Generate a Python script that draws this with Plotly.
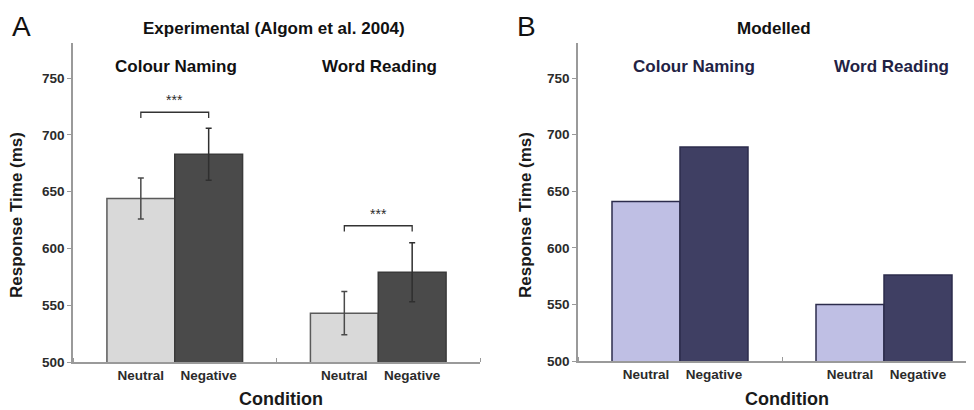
import plotly.graph_objects as go

# ---- data ----
groups = ["Colour Naming", "Word Reading"]
group_pos = [1, 2]
conditions = ["Neutral", "Negative"]

exp_neutral = [644, 543]
exp_negative = [683, 579]
exp_neutral_err = [18, 19]
exp_negative_err = [23, 26]
sig_level = [720, 620]
sig_text = ["***", "***"]

mod_neutral = [641, 550]
mod_negative = [689, 576]

yticks = [500, 550, 600, 650, 700, 750]

# ---- style ----
FONT = "Liberation Sans"
PAGE_W, PAGE_H = 974, 410
OFF = 8  # default page body margin
W, H = PAGE_W - OFF, PAGE_H - OFF
AX = "#9a9a9a"
TXT = "#2b2b2b"
bar_w = 1 / 3

def px(x):
    return (x - OFF) / W

def py(y):
    return 1 - (y - OFF) / H

fig = go.Figure()

# Panel A
fig.add_trace(go.Bar(x=group_pos, y=exp_neutral, name="Neutral", xaxis="x", yaxis="y",
                     marker=dict(color="#d9d9d9", line=dict(color="#5a5a5a", width=1.5)),
                     error_y=dict(type="data", array=exp_neutral_err, color="#4a4a4a",
                                  thickness=1.5, width=3),
                     showlegend=False))
fig.add_trace(go.Bar(x=group_pos, y=exp_negative, name="Negative", xaxis="x", yaxis="y",
                     marker=dict(color="#4a4a4a", line=dict(color="#3a3a3a", width=1.5)),
                     error_y=dict(type="data", array=exp_negative_err, color="#2f2f2f",
                                  thickness=1.5, width=3),
                     showlegend=False))
# Panel B
fig.add_trace(go.Bar(x=group_pos, y=mod_neutral, name="Neutral", xaxis="x2", yaxis="y2",
                     marker=dict(color="#bfbfe4", line=dict(color="#2c2c4c", width=1.5)),
                     showlegend=False))
fig.add_trace(go.Bar(x=group_pos, y=mod_negative, name="Negative", xaxis="x2", yaxis="y2",
                     marker=dict(color="#3f3f63", line=dict(color="#2c2c4c", width=1.5)),
                     showlegend=False))

tickvals = []
ticktext = []
for g in group_pos:
    for i, c in enumerate(conditions):
        tickvals.append(g + (i - 0.5) * bar_w)
        ticktext.append(c)

tickfont = dict(family=FONT, size=13.5, color=TXT, weight="bold")

xa = dict(range=[0.5, 2.5], showline=True, linecolor=AX, linewidth=1.5,
          tickvals=tickvals, ticktext=ticktext, ticks="", tickfont=tickfont,
          showgrid=False, zeroline=False, automargin=False,
          minor=dict(tickvals=[0.5, 1.5, 2.5], ticks="inside", ticklen=4,
                     tickcolor=AX, tickwidth=1.2, showgrid=False))
ya = dict(range=[500, 781], showline=True, linecolor=AX, linewidth=1.5,
          tickvals=yticks, ticks="outside", ticklen=4, tickcolor=AX, tickwidth=1.2,
          tickfont=tickfont, showgrid=False, zeroline=False, automargin=False)

xa1 = dict(xa, domain=[px(73), px(480)], anchor="y")
ya1 = dict(ya, domain=[py(362), py(43)], anchor="x")
xa2 = dict(xa, domain=[px(578), 1.0], anchor="y2",
           range=[0.5, 0.5 + (PAGE_W - 578) / 204])
ya2 = dict(ya, domain=[py(361), py(43)], anchor="x2")

annotations = []
shapes = []

# significance brackets
for g, lvl, txt in zip(group_pos, sig_level, sig_text):
    x0 = g - bar_w / 2
    x1 = g + bar_w / 2
    shapes.append(dict(type="path", xref="x", yref="y",
                       path=f"M {x0} {lvl-5} L {x0} {lvl} L {x1} {lvl} L {x1} {lvl-5}",
                       line=dict(color="#333", width=1.3)))
    annotations.append(dict(x=g, y=lvl, xref="x", yref="y", text=txt, showarrow=False,
                            xanchor="center", yanchor="bottom", yshift=2,
                            font=dict(family=FONT, size=14, color=TXT)))

# group titles
for g, name in zip(group_pos, groups):
    annotations.append(dict(x=g, y=760, xref="x", yref="y", text=name, showarrow=False,
                            xanchor="center", yanchor="middle", xshift=1,
                            font=dict(family=FONT, size=17, color="#111", weight="bold")))
for g, name, sh in zip(group_pos, groups, [14, 7]):
    annotations.append(dict(x=g, y=760, xref="x2", yref="y2", text=name, showarrow=False,
                            xanchor="center", yanchor="middle", xshift=sh,
                            font=dict(family=FONT, size=17, color="#222244", weight="bold")))

def paper_text(x, y, text, size, color="#111", bold=True, angle=0):
    f = dict(family=FONT, size=size, color=color)
    if bold:
        f["weight"] = "bold"
    return dict(x=px(x), y=py(y), xref="paper", yref="paper", text=text,
                showarrow=False, xanchor="center", yanchor="middle",
                textangle=angle, font=f)

annotations += [
    paper_text(274, 28, "Experimental (Algom et al. 2004)", 17),
    paper_text(774, 28, "Modelled", 17),
    paper_text(21, 27, "A", 28, bold=False),
    paper_text(526, 27, "B", 28, bold=False),
    paper_text(16, 215, "Response Time (ms)", 17, "#1a1a1a", angle=-90),
    paper_text(525, 215, "Response Time (ms)", 17, "#1a1a1a", angle=-90),
    paper_text(281, 399, "Condition", 18, "#1a1a1a"),
    paper_text(787, 399, "Condition", 18, "#1a1a1a"),
]

fig.update_layout(
    width=W, height=H,
    margin=dict(l=0, r=0, t=0, b=0),
    paper_bgcolor="white", plot_bgcolor="white",
    barmode="group", bargap=1 - 2 * bar_w, bargroupgap=0,
    xaxis=xa1, yaxis=ya1, xaxis2=xa2, yaxis2=ya2,
    annotations=annotations, shapes=shapes,
    font=dict(family=FONT),
)

fig.write_html("out.html")
